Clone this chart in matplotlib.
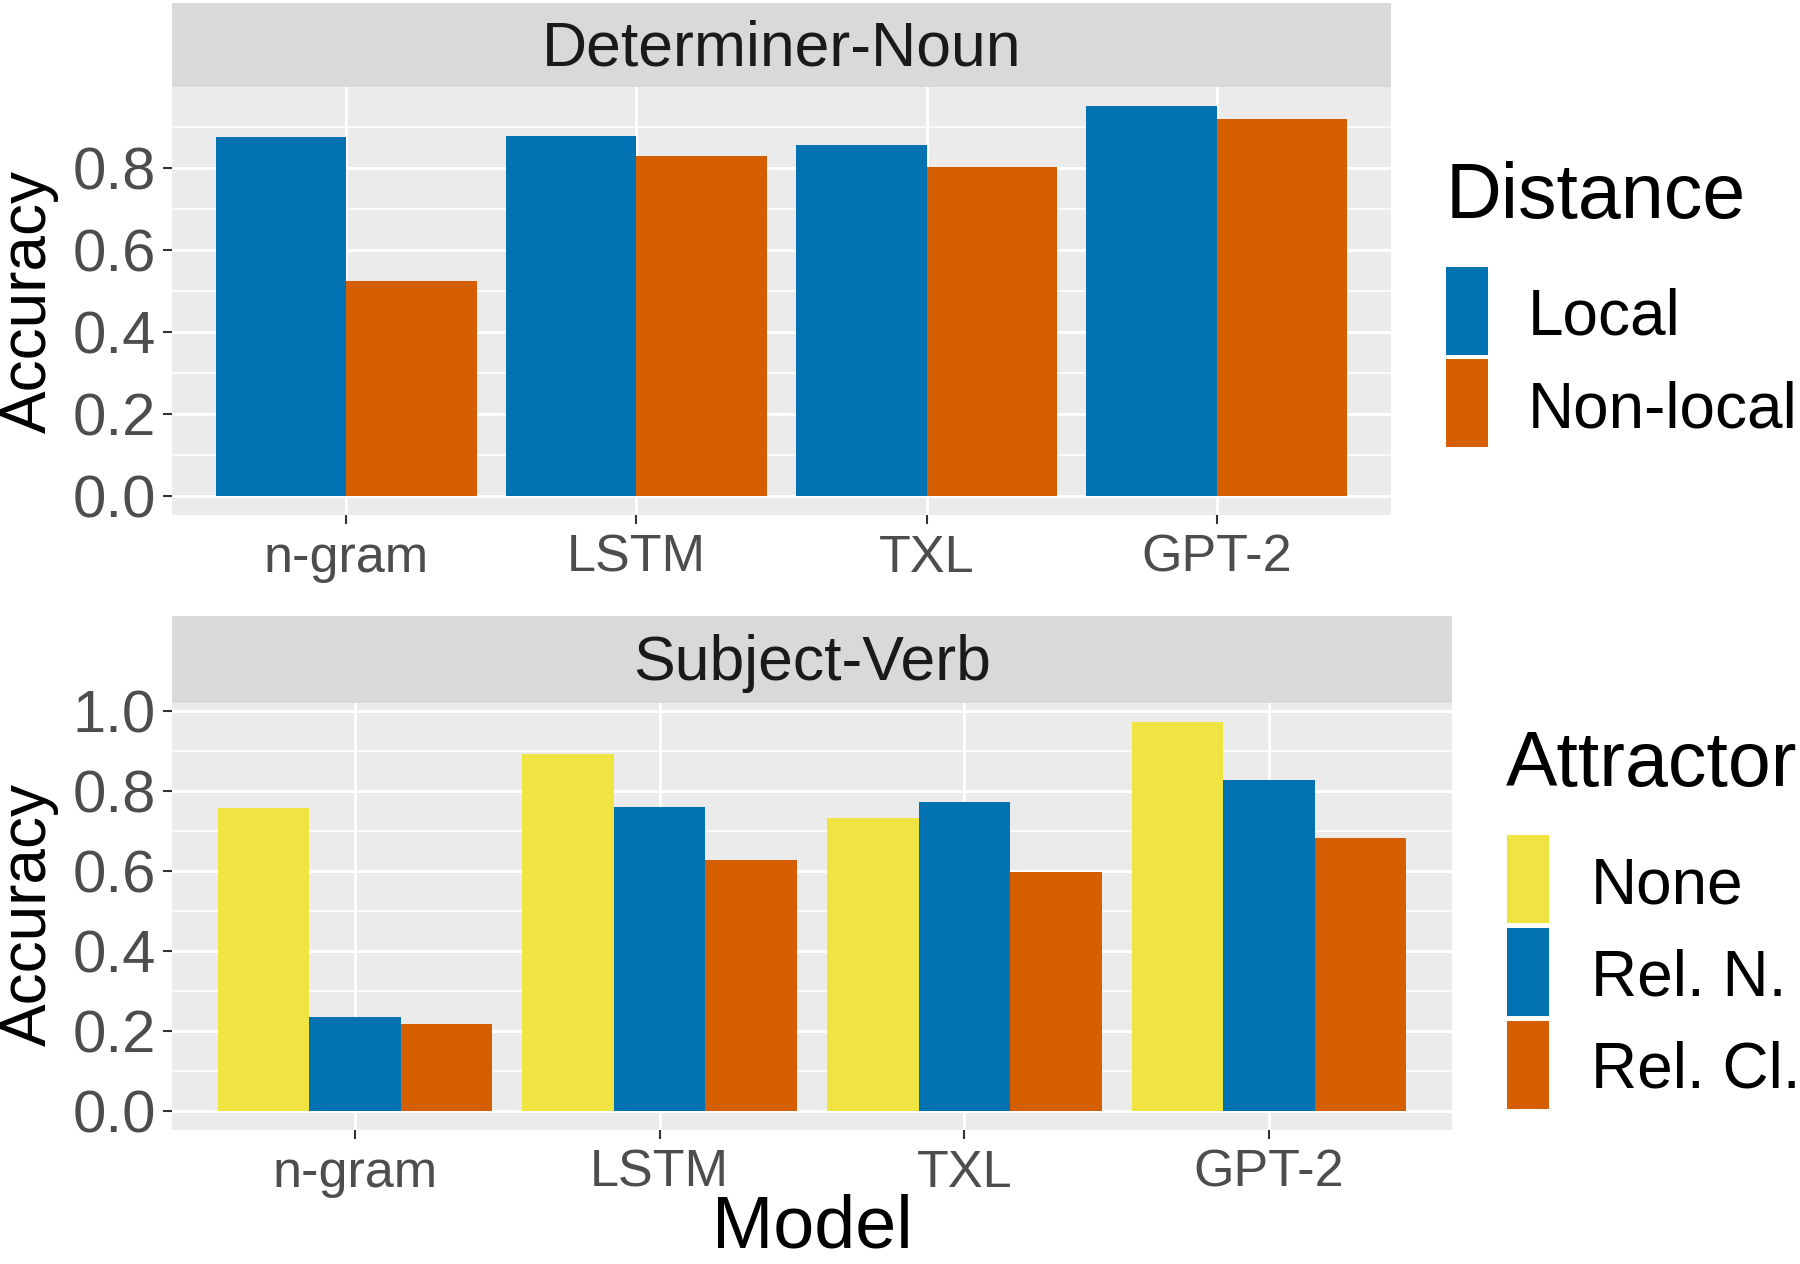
import matplotlib
matplotlib.use("Agg")
import matplotlib.pyplot as plt
import numpy as np
from matplotlib.patches import Rectangle

plt.rcParams['font.family'] = ['Liberation Sans', 'DejaVu Sans']

# ---------------- data ----------------
models = ["n-gram", "LSTM", "TXL", "GPT-2"]

distance_levels = ["Local", "Non-local"]
det_local = [0.875, 0.877, 0.856, 0.949]
det_nonlocal = [0.524, 0.828, 0.802, 0.918]

attractor_levels = ["None", "Rel. N.", "Rel. Cl."]
sv_none = [0.756, 0.891, 0.732, 0.971]
sv_reln = [0.235, 0.759, 0.772, 0.827]
sv_relcl = [0.217, 0.627, 0.598, 0.683]

panel_titles = ["Determiner-Noun", "Subject-Verb"]
legend_titles = ["Distance", "Attractor"]

BLUE = "#0072B2"
ORANGE = "#D55E00"
YELLOW = "#F0E442"

W, H = 1800, 1264
fig = plt.figure(figsize=(W / 100, H / 100), dpi=100)


def rect(x0, y0, x1, y1):
    """pixel box (top-left origin) -> figure fraction [l, b, w, h]"""
    return [x0 / W, 1 - y1 / H, (x1 - x0) / W, (y1 - y0) / H]


def style_axes(ax, ymax, majors, minors):
    ax.set_facecolor("#EBEBEB")
    for s in ax.spines.values():
        s.set_visible(False)
    ax.set_xlim(0.4, 4.6)
    ax.set_ylim(-0.05 * ymax, ymax * 1.05)
    ax.set_yticks(majors)
    ax.set_yticks(minors, minor=True)
    ax.set_yticklabels([f"{v:.1f}" for v in majors])
    ax.set_xticks(np.arange(1, 5))
    ax.set_xticklabels(models)
    ax.grid(True, which="major", color="white", linewidth=2.2)
    ax.grid(True, which="minor", axis="y", color="white", linewidth=1.2)
    ax.set_axisbelow(True)
    ax.tick_params(axis="y", which="major", length=6.5, width=1.5, color="#333333",
                   labelsize=43, labelcolor="#4D4D4D", pad=5)
    ax.tick_params(axis="x", which="major", length=6.5, width=1.5, color="#333333",
                   labelsize=37.5, labelcolor="#4D4D4D", pad=7)
    ax.tick_params(which="minor", length=0)


def strip(box, text):
    sax = fig.add_axes(rect(*box))
    sax.set_facecolor("#D9D9D9")
    sax.set_xticks([]); sax.set_yticks([])
    for s in sax.spines.values():
        s.set_visible(False)
    sax.text(0.5, 0.45, text, ha="center", va="center", fontsize=45, color="#1A1A1A",
             transform=sax.transAxes)


def legend(title, title_xy, labels, colors, key_x, key_tops, key_h, label_x, baselines,
           title_size=55.5, label_size=46):
    fig.text(title_xy[0] / W, 1 - title_xy[1] / H, title, fontsize=title_size,
             ha="left", va="baseline", color="black")
    for lab, col, top, bl in zip(labels, colors, key_tops, baselines):
        fig.patches.append(Rectangle((key_x[0] / W, 1 - (top + key_h) / H),
                                     (key_x[1] - key_x[0]) / W, key_h / H,
                                     transform=fig.transFigure, facecolor=col,
                                     edgecolor="none"))
        fig.text(label_x / W, 1 - bl / H, lab, fontsize=label_size, ha="left",
                 va="baseline", color="black")


x = np.arange(1, 5)

# ---------------- top panel ----------------
ax1 = fig.add_axes(rect(172, 87, 1391, 515))
bw = 0.45
ax1.bar(x - bw / 2, det_local, width=bw, color=BLUE, zorder=3)
ax1.bar(x + bw / 2, det_nonlocal, width=bw, color=ORANGE, zorder=3)
style_axes(ax1, max(det_local + det_nonlocal), [0.0, 0.2, 0.4, 0.6, 0.8], [0.1, 0.3, 0.5, 0.7, 0.9])
strip((172, 3, 1391, 87), panel_titles[0])

# ---------------- bottom panel ----------------
ax2 = fig.add_axes(rect(172, 703, 1452, 1130))
bw3 = 0.3
ax2.bar(x - bw3, sv_none, width=bw3, color=YELLOW, zorder=3)
ax2.bar(x, sv_reln, width=bw3, color=BLUE, zorder=3)
ax2.bar(x + bw3, sv_relcl, width=bw3, color=ORANGE, zorder=3)
style_axes(ax2, max(sv_none + sv_reln + sv_relcl), [0.0, 0.2, 0.4, 0.6, 0.8, 1.0],
           [0.1, 0.3, 0.5, 0.7, 0.9])
strip((172, 616, 1452, 703), panel_titles[1])

# x-axis title
fig.text(812 / W, 1 - 1247 / H, "Model", fontsize=53, color="black",
         ha="center", va="baseline")

# y-axis titles
for ycen in (302, 915):
    fig.text(29 / W, 1 - ycen / H, "Accuracy", fontsize=46, color="black",
             rotation=90, ha="center", va="center")

# ---------------- legends ----------------
legend(legend_titles[0], (1446, 218), distance_levels, [BLUE, ORANGE],
       (1446, 1488), [267, 359], 88, 1528, [334, 427])
legend(legend_titles[1], (1506, 786), attractor_levels, [YELLOW, BLUE, ORANGE],
       (1507, 1549), [835, 928, 1021], 88, 1591, [903, 995, 1088])

fig.savefig("out.png", dpi=100, facecolor="white")
